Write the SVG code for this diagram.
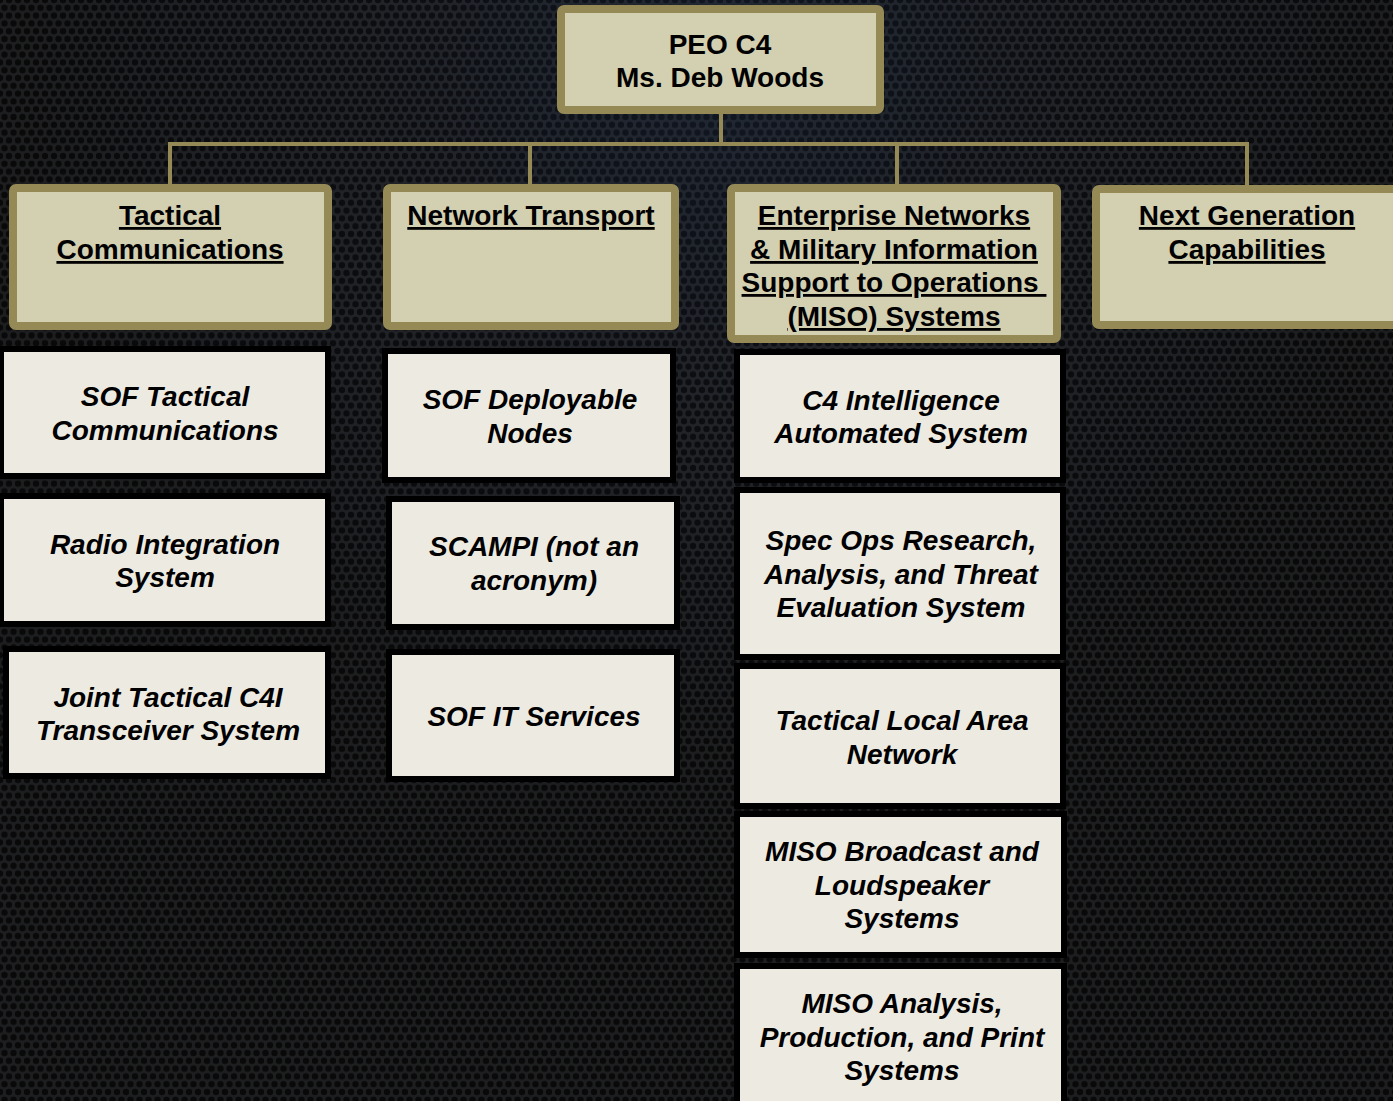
<svg xmlns="http://www.w3.org/2000/svg" width="1393" height="1101" viewBox="0 0 1393 1101">
<defs>
<pattern id="mesh" width="9" height="15.6" patternUnits="userSpaceOnUse">
<rect width="9" height="15.6" fill="#242527"/>
<circle cx="0" cy="0" r="3.2" fill="#0b0b0c"/>
<circle cx="9" cy="0" r="3.2" fill="#0b0b0c"/>
<circle cx="4.5" cy="7.8" r="3.2" fill="#0b0b0c"/>
<circle cx="0" cy="15.6" r="3.2" fill="#0b0b0c"/>
<circle cx="9" cy="15.6" r="3.2" fill="#0b0b0c"/>
</pattern>
<radialGradient id="glow" cx="720" cy="60" r="700" gradientUnits="userSpaceOnUse">
<stop offset="0" stop-color="#1d3050" stop-opacity="0.35"/>
<stop offset="0.5" stop-color="#10182a" stop-opacity="0.15"/>
<stop offset="1" stop-color="#000000" stop-opacity="0.2"/>
</radialGradient>
<style>
.hdr rect{fill:#D3CFB1;stroke:#958A56;stroke-width:8}
.hdr text{font-family:"Liberation Sans",Arial,sans-serif;font-weight:bold;font-size:28px;fill:#000;text-anchor:middle;text-decoration:underline}
.top text{text-decoration:none;font-size:28px}
.item rect{fill:#EDEBE1;stroke:#000;stroke-width:6}
.item text{font-family:"Liberation Sans",Arial,sans-serif;font-weight:bold;font-style:italic;font-size:28px;fill:#000;text-anchor:middle}
.conn{fill:none;stroke:#958A56;stroke-width:4}
</style>
</defs>
<rect width="1393" height="1101" fill="url(#mesh)"/>
<rect width="1393" height="1101" fill="url(#glow)"/>

<g id="connectors">
<path class="conn" d="M721 114 V144 M170 186 V144 H1247 V186 M530 144 V186 M897 144 V186"/>
</g>

<g id="peo" class="hdr top">
<rect x="561" y="9" width="319" height="101" rx="3"/>
<text x="720" y="54">PEO C4</text>
<text x="720" y="87">Ms. Deb Woods</text>
</g>

<g id="tactical-comms" class="hdr">
<rect x="13" y="188" width="315" height="138" rx="3"/>
<text x="170" y="225">Tactical</text>
<text x="170" y="259">Communications</text>
</g>

<g id="network-transport" class="hdr">
<rect x="387" y="188" width="288" height="138" rx="3"/>
<text x="531" y="225">Network Transport</text>
</g>

<g id="enterprise-networks" class="hdr">
<rect x="731" y="188" width="326" height="151" rx="3"/>
<text x="894" y="225">Enterprise Networks</text>
<text x="894" y="259">&amp; Military Information</text>
<text x="894" y="292" xml:space="preserve">Support to Operations </text>
<text x="894" y="326">(MISO) Systems</text>
</g>

<g id="next-generation" class="hdr">
<rect x="1096" y="189" width="310" height="136" rx="3"/>
<text x="1247" y="225">Next Generation</text>
<text x="1247" y="259">Capabilities</text>
</g>

<g id="sof-tactical-comms" class="item">
<rect x="1" y="349" width="327" height="127"/>
<text x="165" y="406">SOF Tactical</text>
<text x="165" y="440">Communications</text>
</g>

<g id="radio-integration" class="item">
<rect x="1" y="496" width="327" height="128"/>
<text x="165" y="554">Radio Integration</text>
<text x="165" y="587">System</text>
</g>

<g id="jtc4i" class="item">
<rect x="6" y="649" width="322" height="127"/>
<text x="168" y="707">Joint Tactical C4I</text>
<text x="168" y="740">Transceiver System</text>
</g>

<g id="sof-deployable-nodes" class="item">
<rect x="385" y="351" width="288" height="129"/>
<text x="530" y="409">SOF Deployable</text>
<text x="530" y="443">Nodes</text>
</g>

<g id="scampi" class="item">
<rect x="389" y="499" width="288" height="128"/>
<text x="534" y="556">SCAMPI (not an</text>
<text x="534" y="590">acronym)</text>
</g>

<g id="sof-it-services" class="item">
<rect x="389" y="652" width="288" height="127"/>
<text x="534" y="726">SOF IT Services</text>
</g>

<g id="c4-intelligence" class="item">
<rect x="737" y="352" width="326" height="128"/>
<text x="901" y="410">C4 Intelligence</text>
<text x="901" y="443">Automated System</text>
</g>

<g id="spec-ops" class="item">
<rect x="737" y="490" width="326" height="167"/>
<text x="901" y="550">Spec Ops Research,</text>
<text x="901" y="584">Analysis, and Threat</text>
<text x="901" y="617">Evaluation System</text>
</g>

<g id="tactical-lan" class="item">
<rect x="737" y="666" width="326" height="140"/>
<text x="902" y="730">Tactical Local Area</text>
<text x="902" y="764">Network</text>
</g>

<g id="miso-broadcast" class="item">
<rect x="737" y="814" width="327" height="141"/>
<text x="902" y="861">MISO Broadcast and</text>
<text x="902" y="895">Loudspeaker</text>
<text x="902" y="928">Systems</text>
</g>

<g id="miso-analysis" class="item">
<rect x="737" y="966" width="327" height="150"/>
<text x="902" y="1013">MISO Analysis,</text>
<text x="902" y="1047">Production, and Print</text>
<text x="902" y="1080">Systems</text>
</g>
</svg>
